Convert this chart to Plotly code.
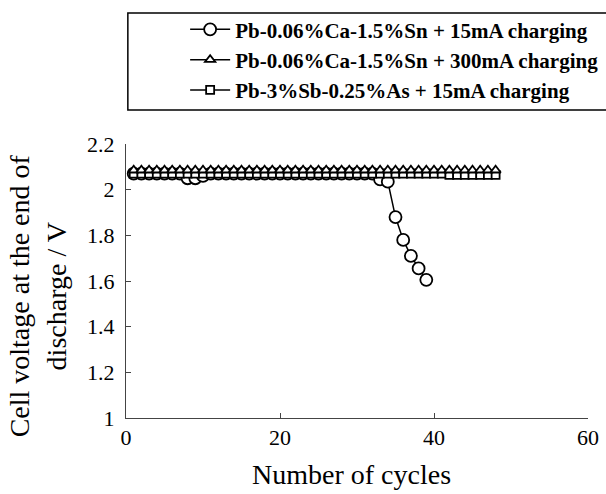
import plotly.graph_objects as go

# ---- data ----
cycles_ca_15 = list(range(1, 40))
volt_ca_15 = [2.07, 2.07, 2.07, 2.07, 2.07, 2.07, 2.07, 2.05, 2.05, 2.06,
              2.07, 2.07, 2.07, 2.07, 2.07, 2.07, 2.07, 2.07, 2.07, 2.07,
              2.07, 2.07, 2.07, 2.07, 2.07, 2.07, 2.07, 2.07, 2.07, 2.07,
              2.07, 2.07, 2.045, 2.035, 1.88, 1.78, 1.71, 1.655, 1.605]

cycles_ca_300 = list(range(1, 49))
volt_ca_300 = [2.085, 2.085, 2.085, 2.085, 2.085, 2.085, 2.085, 2.085, 2.085, 2.085,
               2.085, 2.085, 2.085, 2.085, 2.085, 2.085, 2.085, 2.085, 2.085, 2.085,
               2.085, 2.085, 2.085, 2.085, 2.085, 2.085, 2.085, 2.085, 2.085, 2.085,
               2.085, 2.085, 2.085, 2.085, 2.085, 2.085, 2.085, 2.085, 2.085, 2.085,
               2.085, 2.085, 2.085, 2.085, 2.085, 2.085, 2.085, 2.085]

cycles_sb_15 = list(range(1, 49))
volt_sb_15 = [2.07, 2.07, 2.07, 2.07, 2.07, 2.07, 2.07, 2.07, 2.07, 2.07,
              2.07, 2.07, 2.07, 2.07, 2.07, 2.07, 2.07, 2.07, 2.07, 2.07,
              2.07, 2.07, 2.07, 2.07, 2.07, 2.07, 2.07, 2.07, 2.07, 2.07,
              2.07, 2.07, 2.07, 2.07, 2.07, 2.07, 2.07, 2.07, 2.07, 2.07,
              2.07, 2.065, 2.065, 2.065, 2.065, 2.065, 2.065, 2.065]

series_names = ["Pb-0.06%Ca-1.5%Sn + 15mA charging",
                "Pb-0.06%Ca-1.5%Sn + 300mA charging",
                "Pb-3%Sb-0.25%As + 15mA charging"]

x_ticks = [0, 20, 40, 60]
y_ticks = [1, 1.2, 1.4, 1.6, 1.8, 2, 2.2]
y_tick_text = ["1", "1.2", "1.4", "1.6", "1.8", "2", "2.2"]

x_title = "Number of cycles"
y_title = "Cell voltage at the end of<br>discharge / V"

FONT = "Liberation Serif"

fig = go.Figure()

def add(xs, ys, name, symbol, size, rank):
    fig.add_trace(go.Scatter(
        x=xs, y=ys, name=name, mode="lines+markers", legendgroup=name,
        legendrank=rank,
        line=dict(color="black", width=1.5),
        marker=dict(symbol=symbol, size=size, color="white",
                    line=dict(color="black", width=1.8)),
    ))

add(cycles_ca_15, volt_ca_15, series_names[0], "circle", 12, 1)
add(cycles_sb_15, volt_sb_15, series_names[2], "square", 8, 3)
add(cycles_ca_300, volt_ca_300, series_names[1], "triangle-up", 9, 2)

# legend frame
fig.add_shape(type="rect", xref="paper", yref="paper",
              x0=0.004, x1=1.06, y0=1.124, y1=1.478,
              line=dict(color="black", width=1.5), fillcolor="rgba(0,0,0,0)",
              layer="above")

fig.add_annotation(text=y_title, xref="paper", yref="paper",
                   x=-0.192, y=0.445, xanchor="center", yanchor="middle",
                   textangle=-90, showarrow=False,
                   font=dict(family=FONT, size=28, color="black"))
fig.add_annotation(text=x_title, xref="paper", yref="paper",
                   x=0.488, y=-0.205, xanchor="center", yanchor="middle",
                   showarrow=False,
                   font=dict(family=FONT, size=28, color="black"))

fig.update_layout(
    width=606, height=494,
    margin=dict(l=126, r=18, t=144, b=76, autoexpand=False),
    paper_bgcolor="white", plot_bgcolor="white",
    font=dict(family=FONT, size=22, color="black"),
    showlegend=True,
    legend=dict(
        x=0.128, y=1.492, xanchor="left", yanchor="top",
        bgcolor="rgba(0,0,0,0)", borderwidth=0,
        font=dict(family=FONT, size=21, color="black", weight="bold"),
        tracegroupgap=0, itemwidth=40,
    ),
    xaxis=dict(
        range=[0, 60], tickvals=x_ticks, ticks="inside", ticklen=5,
        tickcolor="#444", showline=True, linecolor="#444", linewidth=1,
        showgrid=False, zeroline=False,
        tickfont=dict(family=FONT, size=22),
    ),
    yaxis=dict(
        range=[1, 2.2], tickvals=y_ticks, ticktext=y_tick_text, ticks="inside",
        ticklen=5, tickcolor="#444", showline=True, linecolor="#444", linewidth=1,
        showgrid=False, zeroline=False, ticklabelstandoff=6,
        tickfont=dict(family=FONT, size=22),
    ),
)

fig.write_html("out.html")
